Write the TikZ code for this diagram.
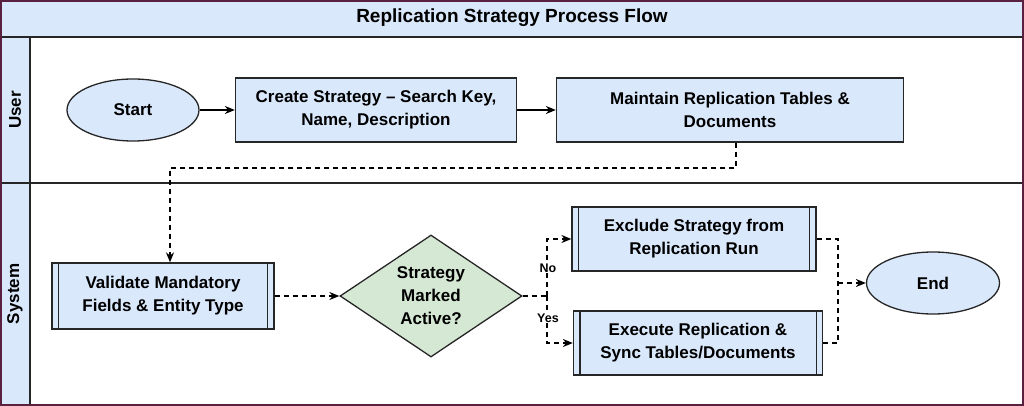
\documentclass[tikz,border=0pt]{standalone}
\usepackage{fontspec}
\setmainfont{Liberation Sans}
\usetikzlibrary{shapes.geometric, arrows.meta}
\definecolor{boxblue}{HTML}{DAE8FC}
\definecolor{boxgreen}{HTML}{D5E8D4}
\definecolor{frame}{HTML}{5A2040}
\tikzstyle{lane} = [draw=black!85, line width=1.6pt]
\tikzstyle{proc} = [rectangle, draw=black!85, fill=boxblue, line width=1.3pt, align=center, font=\fontsize{17}{23}\selectfont\bfseries]
\tikzstyle{term} = [ellipse, draw=black!85, fill=boxblue, line width=1.3pt, font=\fontsize{17}{23}\selectfont\bfseries]
\tikzstyle{decide} = [diamond, draw=black!85, fill=boxgreen, line width=1.3pt, align=center, aspect=1.5, inner sep=0pt, font=\fontsize{17}{23}\selectfont\bfseries]
\tikzstyle{arrow} = [line width=1.3pt, -{Stealth[length=10pt,width=8pt]}]
\tikzstyle{darrow} = [arrow, dash pattern=on 5pt off 4pt]
\tikzstyle{dline} = [line width=1.3pt, dash pattern=on 5pt off 4pt]
\tikzstyle{tag} = [fill=white, inner sep=1pt, font=\fontsize{12.5}{14}\selectfont\bfseries]
\newcommand{\sidebars}[1]{%
  \draw[line width=1.3pt, black!85] ([xshift=7pt]#1.north west) -- ([xshift=7pt]#1.south west);
  \draw[line width=1.3pt, black!85] ([xshift=-7pt]#1.north east) -- ([xshift=-7pt]#1.south east);}

\begin{document}
\begin{tikzpicture}[x=1pt,y=-1pt]
\useasboundingbox (0,0) rectangle (1024,406);

% swimlanes
\fill[boxblue] (1,1) rectangle (1023,37);
\fill[boxblue] (1,37) rectangle (30,405);
\draw[lane] (1,37) -- (1023,37);
\draw[lane] (1,183) -- (1023,183);
\draw[lane] (30,37) -- (30,405);
\draw[frame, line width=1.6pt] (1,1) rectangle (1023,405);
\node[font=\fontsize{19}{22}\selectfont\bfseries] (title) at (512,18) {Replication Strategy Process Flow};
\node[rotate=90, font=\fontsize{17}{20}\selectfont\bfseries] (user) at (15,110) {User};
\node[rotate=90, font=\fontsize{17}{20}\selectfont\bfseries] (system) at (15,294) {System};

% user lane
\node[term, minimum width=132pt, minimum height=62pt] (start) at (133,110) {Start};
\node[proc, minimum width=281pt, minimum height=64pt] (create) at (376,110) {Create Strategy – Search Key,\\Name, Description};
\node[proc, minimum width=347pt, minimum height=64pt] (maintain) at (730,110) {Maintain Replication Tables \&\\Documents};

% system lane
\node[proc, minimum width=222pt, minimum height=66pt] (validate) at (163,296) {Validate Mandatory\\Fields \& Entity Type};
\sidebars{validate}
\node[decide, minimum width=182pt, minimum height=122pt] (active) at (431,296) {Strategy\\Marked\\Active?};
\node[proc, minimum width=244pt, minimum height=64pt] (exclude) at (694,239) {Exclude Strategy from\\Replication Run};
\sidebars{exclude}
\node[proc, minimum width=249pt, minimum height=64pt] (execute) at (698,343) {Execute Replication \&\\Sync Tables/Documents};
\sidebars{execute}
\node[term, minimum width=133pt, minimum height=62pt] (end) at (933,283) {End};

\coordinate (split) at (547,296);
\coordinate (merge) at (838,283);

% connectors
\draw[arrow] (start) -- (create);
\draw[arrow] (create) -- (maintain);
\draw[darrow] (maintain.south -| 736,0) -- (736,168) -- (170,168) -- (validate.north -| 170,0);
\draw[darrow] (validate) -- (active);
\draw[dline] (active.east) -- (split);
\draw[darrow] (split) -- (split |- exclude) -- (exclude.west);
\draw[darrow] (split) -- (split |- execute) -- (execute.west);
\node[tag] (no) at (548,268) {No};
\node[tag] (yes) at (548,318) {Yes};
\draw[dline] (exclude.east) -- (merge |- exclude) -- (merge |- execute) -- (execute.east);
\draw[darrow] (merge) -- (end.west);
\end{tikzpicture}
\end{document}
